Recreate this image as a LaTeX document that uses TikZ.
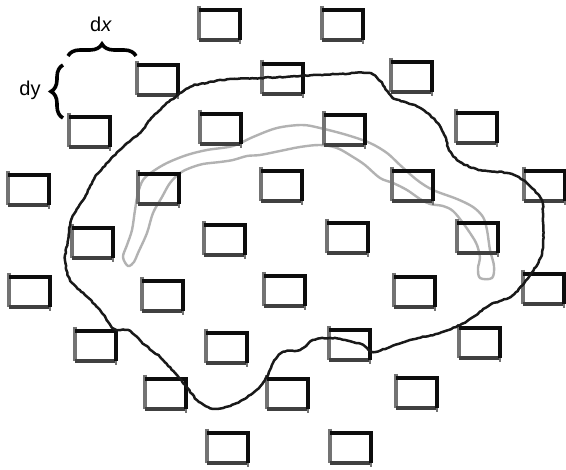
\documentclass[tikz,border=0pt]{standalone}
\usepackage{fontspec}
\setmainfont{Liberation Sans}
\usetikzlibrary{decorations.pathreplacing,decorations.pathmorphing}
\begin{document}
\begin{tikzpicture}[x=1pt,y=-1pt,
  boxdark/.style={draw=black!95,line width=4pt,line cap=square},
  boxlight/.style={draw=black!55,line width=3.2pt},
  boxfoot/.style={draw=black!75,line width=3.2pt},
  cellbox/.pic={
    \draw[boxlight] (0,-4) -- (0,30);
    \draw[boxfoot] (0,30) -- (41,30);
    \draw[boxdark] (0,0) -- (41,0) -- (41,30);
    \draw[draw=black!55,line width=2pt] (41,30) -- (41,34);
  },
  outline/.style={draw=black!90,line width=2.5pt,line join=round,
    decorate,decoration={random steps,segment length=2.5pt,amplitude=0.5pt}},
  innerband/.style={draw=black!30,line width=2.4pt,line join=round},
  bracemark/.style={draw=black,line width=3.6pt,decorate,
    decoration={brace,amplitude=12pt}},
  label/.style={font=\fontsize{20}{20}\selectfont,inner sep=0pt}]

\useasboundingbox[fill=white] (0,0) rectangle (566,470);
\pgfmathsetseed{7}

% light band inside the region
\draw[innerband] plot[smooth cycle,tension=0.55] coordinates {
  (123,257) (127,245) (132,230) (135,210) (138,193) (143,180) (152,172)
  (167,163) (187,155) (207,150) (233,146) (253,137) (277,128) (302,125)
  (320,128) (347,135) (370,143) (387,153) (400,165) (417,180) (433,190)
  (457,199) (473,207) (483,217) (487,230) (490,250) (494,266) (492,278)
  (480,278) (478,268) (480,258) (477,245) (472,236) (463,223) (453,211)
  (443,206) (430,204) (420,199) (407,190) (393,183) (380,178) (365,165)
  (353,157) (337,148) (320,145) (300,147) (280,151) (260,155) (247,156)
  (233,160) (220,162) (203,164) (190,168) (180,173) (170,183) (162,197)
  (153,213) (147,233) (138,253) (134,262) (128,266)};

% lattice of sampling cells
\foreach \cx/\cy in {
  199/10, 322/10,
  137/65, 262/64, 391/62,
  69/117, 200/114, 324/115, 456/113,
  8/175, 138/174, 261/171, 392/171, 524/171,
  72/228, 204/225, 327/223, 457/223,
  9/277, 142/281, 264/276, 394/277, 523/274,
  75/331, 206/333, 329/330, 459/328,
  145/379, 267/379, 396/378,
  207/433, 330/433}
  \pic at (\cx,\cy) {cellbox};

% region boundary
\draw[outline] plot[smooth cycle,tension=0.5] coordinates {
  (110,160) (125,145) (140,133) (150,120) (165,105) (178,95) (190,87)
  (200,84) (230,79) (260,78) (300,76) (340,74) (368,73) (380,81)
  (392,97) (405,102) (420,108) (435,120) (445,136) (449,150) (460,162)
  (480,170) (507,173) (523,180) (540,197) (543,213) (542,253) (530,275)
  (513,295) (490,305) (473,317) (460,325) (440,333) (410,340) (390,347)
  (373,352) (363,345) (345,340) (330,338) (313,340) (300,350) (283,352)
  (273,363) (265,380) (253,393) (237,403) (223,408) (210,408) (197,400)
  (185,385) (175,373) (160,357) (145,345) (130,331) (117,330) (111,326)
  (100,310) (85,295) (70,280) (65,260) (68,240) (72,218) (85,197)
  (95,177)};

% spacing annotations
\coordinate (bxl) at (68,56);
\coordinate (bxr) at (136,56);
\coordinate (byb) at (63,118);
\coordinate (byt) at (63,65);
\draw[bracemark] (bxl) -- (bxr);
\draw[bracemark] (byb) -- (byt);
\node[label] (dxl) at (101,24) {d\textit{x}};
\node[label] (dyl) at (30,90) {dy};
\end{tikzpicture}
\end{document}
